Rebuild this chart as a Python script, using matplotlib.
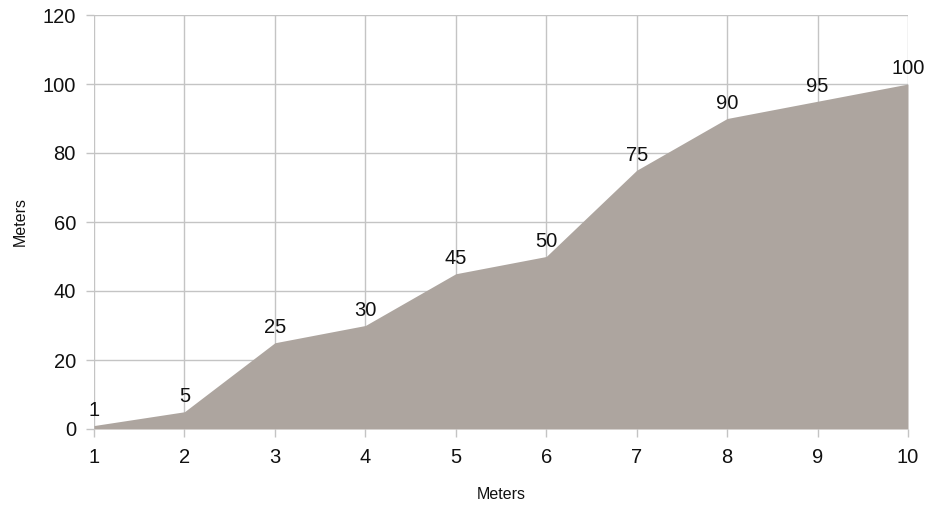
import matplotlib
matplotlib.use("Agg")
import matplotlib.pyplot as plt

x_values = [1, 2, 3, 4, 5, 6, 7, 8, 9, 10]
y_values = [1, 5, 25, 30, 45, 50, 75, 90, 95, 100]
y_ticks = [0, 20, 40, 60, 80, 100, 120]

plt.rcParams['font.family'] = ['Liberation Sans', 'DejaVu Sans']

fig = plt.figure(figsize=(9.27, 5.08), dpi=100)
ax = fig.add_axes([94 / 927, 1 - 429 / 508, (908 - 94) / 927, (429 - 15) / 508])

ax.fill_between(x_values, 0, y_values, color='#ada59f', linewidth=0, zorder=2)

for xv, yv in zip(x_values, y_values):
    ax.annotate(str(yv), (xv, yv), xytext=(0, 4), textcoords='offset points',
                ha='center', va='bottom', fontsize=14.5, color='#111111', zorder=3)

ax.set_xlim(1, 10)
ax.set_ylim(0, 120)
ax.set_xticks(x_values)
ax.set_yticks(y_ticks)
ax.grid(True, color='#c4c4c4', linewidth=1, zorder=0)
ax.set_axisbelow(True)
for s in ax.spines.values():
    s.set_visible(False)
ax.tick_params(axis='both', length=6, width=1, color='#c4c4c4', labelsize=14.5,
               labelcolor='#111111')
ax.tick_params(axis='x', pad=8)
ax.tick_params(axis='y', pad=7)

ax.set_xlabel('Meters', fontsize=11.5, labelpad=14, color='#111111')
ax.set_ylabel('Meters', fontsize=11.5, labelpad=10.5, color='#111111')

fig.savefig('out.png', dpi=100)
